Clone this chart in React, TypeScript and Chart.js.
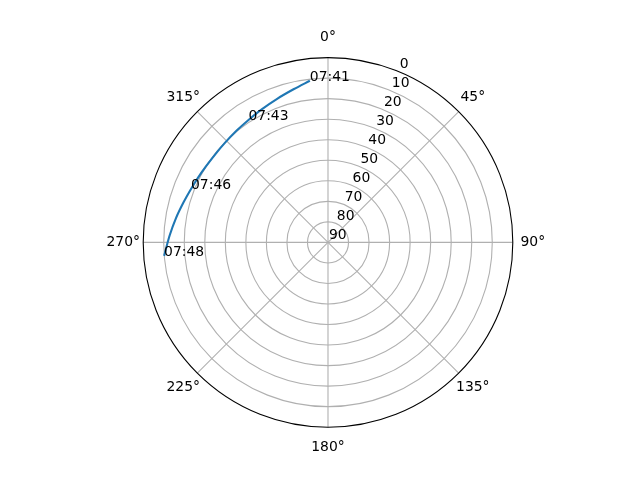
import { useEffect, useRef } from "react";
import { Chart, registerables } from "chart.js";

Chart.register(...registerables);

// pass samples, every 30 s
const times = [
  "07:41:00", "07:41:30", "07:42:00", "07:42:30", "07:43:00",
  "07:43:30", "07:44:00", "07:44:30", "07:45:00", "07:45:30",
  "07:46:00", "07:46:30", "07:47:00", "07:47:30", "07:48:00",
];
const azimuth = [
  353.6, 347.5, 340.5, 333.5, 327.0, 320.5, 314.0, 308.0, 302.0, 296.5,
  291.3, 285.5, 279.0, 272.5, 265.3,
];
const elevation = [
  10.8, 13.5, 15.8, 17.6, 18.9, 19.7, 20.2, 20.3, 20.0, 19.3,
  18.4, 17.0, 15.0, 12.8, 9.9,
];
const labelledTimes = ["07:41", "07:43", "07:46", "07:48"];

const elevationTicks = [0, 10, 20, 30, 40, 50, 60, 70, 80, 90];
const azimuthTicks = [0, 45, 90, 135, 180, 225, 270, 315];

const FONT = "13.9px 'DejaVu Sans'";
const RLABEL_ANGLE = 22.5;

// elevation 90 at centre, 0 on the rim; azimuth clockwise from north
function toXY(az: number, el: number) {
  const r = 90 - el;
  const a = (az * Math.PI) / 180;
  return { x: r * Math.sin(a), y: r * Math.cos(a) };
}

const polarPlugin = {
  id: "polarGrid",
  beforeDatasetsDraw(chart: any) {
    const { ctx } = chart;
    const xs = chart.scales.x;
    const ys = chart.scales.y;
    const cx = xs.getPixelForValue(0);
    const cy = ys.getPixelForValue(0);
    const rad = (el: number) => xs.getPixelForValue(90 - el) - cx;
    const R = rad(0);

    ctx.save();
    ctx.strokeStyle = "#b0b0b0";
    ctx.lineWidth = 1.1;
    elevationTicks.forEach((el) => {
      if (el === 0 || el === 90) return;
      ctx.beginPath();
      ctx.arc(cx, cy, rad(el), 0, Math.PI * 2);
      ctx.stroke();
    });
    azimuthTicks.forEach((az) => {
      const a = (az * Math.PI) / 180;
      ctx.beginPath();
      ctx.moveTo(cx, cy);
      ctx.lineTo(cx + R * Math.sin(a), cy - R * Math.cos(a));
      ctx.stroke();
    });
    ctx.restore();
  },
  afterDatasetsDraw(chart: any) {
    const { ctx } = chart;
    const xs = chart.scales.x;
    const ys = chart.scales.y;
    const cx = xs.getPixelForValue(0);
    const cy = ys.getPixelForValue(0);
    const rad = (el: number) => xs.getPixelForValue(90 - el) - cx;
    const R = rad(0);

    ctx.save();
    // spine
    ctx.strokeStyle = "#000000";
    ctx.lineWidth = 1.1;
    ctx.beginPath();
    ctx.arc(cx, cy, R, 0, Math.PI * 2);
    ctx.stroke();

    ctx.fillStyle = "#000000";
    ctx.font = FONT;

    // azimuth labels
    ctx.textAlign = "center";
    ctx.textBaseline = "middle";
    azimuthTicks.forEach((az) => {
      const a = (az * Math.PI) / 180;
      const d = R + 20;
      ctx.fillText(`${az}°`, cx + d * Math.sin(a), cy - d * Math.cos(a));
    });

    // elevation labels
    ctx.textAlign = "left";
    ctx.textBaseline = "bottom";
    const ra = (RLABEL_ANGLE * Math.PI) / 180;
    elevationTicks.forEach((el) => {
      const r = rad(el);
      ctx.fillText(String(el), cx + r * Math.sin(ra) + 1, cy - r * Math.cos(ra));
    });

    // time annotations
    ctx.textBaseline = "alphabetic";
    times.forEach((t, i) => {
      const hm = t.slice(0, 5);
      if (t.slice(6) !== "00" || !labelledTimes.includes(hm)) return;
      const p = toXY(azimuth[i], elevation[i]);
      ctx.fillText(hm, xs.getPixelForValue(p.x), ys.getPixelForValue(p.y));
    });
    ctx.restore();
  },
};

export default function App() {
  const canvasRef = useRef<HTMLCanvasElement>(null);
  const chartRef = useRef<Chart | null>(null);

  useEffect(() => {
    if (!canvasRef.current) return;
    if (chartRef.current) chartRef.current.destroy();

    const points = azimuth.map((az, i) => toXY(az, elevation[i]));

    chartRef.current = new Chart(canvasRef.current, {
      type: "scatter",
      data: {
        datasets: [
          {
            label: "pass",
            data: points,
            showLine: true,
            borderColor: "#1f77b4",
            borderWidth: 2.1,
            pointRadius: 0,
            tension: 0.3,
            clip: false,
          },
        ],
      },
      options: {
        responsive: true,
        maintainAspectRatio: false,
        animation: false,
        layout: {
          padding: { left: 143.2, right: 127.2, top: 57.6, bottom: 52.8 },
        },
        plugins: {
          legend: { display: false },
          tooltip: { enabled: false },
        },
        scales: {
          x: { type: "linear", min: -90, max: 90, display: false },
          y: { type: "linear", min: -90, max: 90, display: false },
        },
      },
      plugins: [polarPlugin],
    });

    return () => {
      if (chartRef.current) {
        chartRef.current.destroy();
        chartRef.current = null;
      }
    };
  }, []);

  return (
    <div
      style={{
        position: "fixed",
        left: 0,
        top: 0,
        width: 640,
        height: 480,
        background: "#ffffff",
      }}
    >
      <canvas ref={canvasRef} />
    </div>
  );
}
